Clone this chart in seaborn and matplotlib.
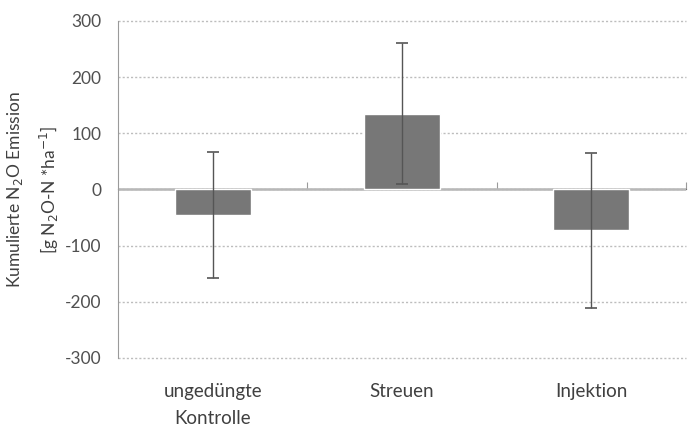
import matplotlib
matplotlib.use("Agg")
import matplotlib.pyplot as plt
import matplotlib.transforms as mtransforms
import seaborn as sns
import pandas as pd

# Daten
varianten = ["ungedüngte\nKontrolle", "Streuen", "Injektion"]
mittelwerte = [-45, 135, -73]
fehler = [112, 126, 138]
y_ticks = [-300, -200, -100, 0, 100, 200, 300]

sns.set_style("white")
plt.rcParams['font.family'] = ['Lato', 'DejaVu Sans']
plt.rcParams['axes.unicode_minus'] = False

df = pd.DataFrame({"variante": varianten, "wert": mittelwerte})

fig = plt.figure(figsize=(6.99, 4.28), dpi=100)
ax = fig.add_axes([0.169, 0.164, 0.812, 0.787])

sns.barplot(data=df, x="variante", y="wert", color="#777777", width=0.4,
            saturation=1, ax=ax, zorder=3)
ax.errorbar(range(len(varianten)), mittelwerte, yerr=fehler, fmt="none",
            ecolor="#555555", elinewidth=1, capsize=4.5, capthick=1.2, zorder=4)

ax.set_ylim(-300, 300)
ax.set_xlim(-0.5, 2.5)
ax.set_yticks(y_ticks)
ax.set_yticklabels([str(t) for t in y_ticks])
ax.yaxis.grid(True, linestyle=(0, (1.5, 1.5)), color="#bdbdbd", linewidth=1)
for gl in ax.get_ygridlines():
    gl.set_clip_on(False)
ax.set_axisbelow(True)

# Achsen im Excel-Stil
for s in ["top", "right", "bottom"]:
    ax.spines[s].set_visible(False)
ax.spines["left"].set_color("#9a9a9a")
ax.tick_params(axis="y", length=4, color="#9a9a9a", labelsize=12.5,
               labelcolor="#505050", pad=8)

# Kategorienbeschriftung unten (mit größerem Zeilenabstand)
ax.set_xticks(range(len(varianten)))
ax.set_xticklabels([])
ax.tick_params(axis="x", length=0)
trans = mtransforms.offset_copy(ax.get_xaxis_transform(), fig=fig, y=-25, units="dots")
for i, name in enumerate(varianten):
    ax.text(i, 0, name, transform=trans, ha="center", va="top",
            fontsize=13.5, color="#404040", linespacing=1.7)

ax.axhline(0, color="#b8b8b8", linewidth=1.8, zorder=2)
sec = ax.secondary_xaxis(0.5)
sec.set_xticks([0.5, 1.5, 2.5])
sec.set_xticklabels([])
sec.spines["bottom"].set_visible(False)
sec.tick_params(length=5, color="#9a9a9a", direction="out")

ax.set_xlabel("")
ax.set_ylabel("Kumulierte N$_2$O Emission\n[g N$_2$O-N *ha$^{-1}$]",
              fontsize=12.5, color="#404040", labelpad=3, linespacing=1.7)

fig.savefig("out.png", dpi=100)
